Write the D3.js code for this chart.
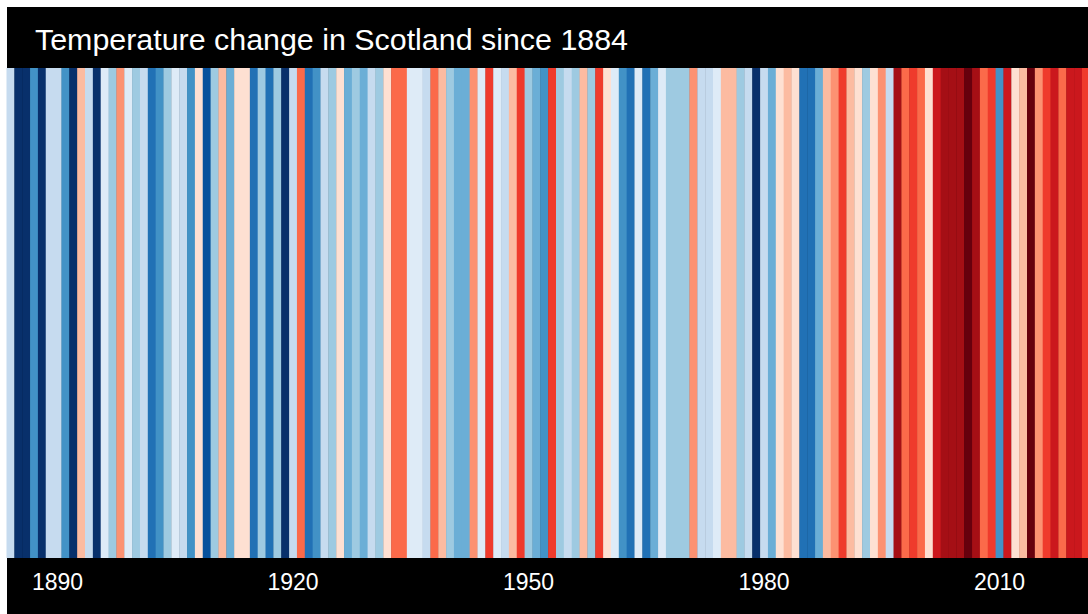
<!DOCTYPE html>
<html>
<head>
<meta charset="utf-8">
<script src="https://cdn.jsdelivr.net/npm/d3@7"></script>
<style>
  html, body { margin: 0; padding: 0; background: #fff; }
  svg { display: block; }
  text { font-family: "Helvetica Neue", Helvetica, Arial, "Liberation Sans", sans-serif; }
</style>
</head>
<body>
<div id="chart"></div>
<script>
// Years shown, one stripe each
const firstYear = 1884;
const lastYear = 2021;
const years = d3.range(firstYear, lastYear + 1);

// Estimated anomaly (°C) per year, read from stripe colours
const anomalies = [
  -0.3, -1.5, -1.5, -0.9, -1.5, -0.3, -0.3, -0.9, -1.5, 0.3,
  -0.3, -1.5, -0.1, -0.5, 0.5, -0.1, -0.5, -0.3, -1.1, -0.9,
  -0.5, -0.1, -0.3, -0.9, 0.1, -1.3, -0.5, 0.3, -0.7, 0.1,
  0.1, -1.1, -0.5, -1.1, -0.5, -1.5, -0.3, 0.7, -1.1, -0.9,
  -0.3, -0.5, 0.1, -0.7, -0.5, -0.7, -0.3, -0.5, 0.1, 0.7,
  0.7, -0.1, -0.1, -0.3, 0.7, 0.3, -0.5, -0.7, -0.7, 0.5,
  -0.1, 0.9, -0.1, -0.3, 0.3, 0.9, -0.5, -0.7, -0.9, 0.9,
  -0.5, -0.3, -0.5, 0.3, -0.5, 0.9, 0.1, -0.1, -0.9, -1.1,
  -0.1, -1.1, -0.7, -0.1, -0.5, -0.5, -0.5, 0.5, -0.3, -0.3,
  -0.1, 0.3, 0.3, -0.5, -0.3, -1.5, -0.3, -0.7, 0.1, 0.3,
  0.1, -1.1, -1.1, -0.7, 0.3, 0.5, 0.9, 0.3, 0.1, -0.5,
  0.1, 0.5, -0.3, 1.3, 0.7, 0.9, 0.7, 0.1, 1.1, 1.3,
  1.3, 1.3, 1.5, 1.3, 0.7, 0.9, -0.9, 1.1, 0.1, 0.3,
  1.5, 0.5, 0.9, 1.1, 0.7, 1.1, 1.1, 0.9
];

const tickYears = [1890, 1920, 1950, 1980, 2010];
const title = 'Temperature change in Scotland since 1884';

// Blues / Reds, 8 classes each, cold to warm
const palette = d3.schemeBlues[9].slice(1).reverse().concat(d3.schemeReds[9].slice(1));

const width = 1088, height = 614;
const margin = { left: 7, top: 7 };
const stripeTop = 68, stripeBottom = 558;
const stripeW = 7.85;

const svg = d3.select('#chart')
  .append('svg')
  .attr('width', width)
  .attr('height', height);

// black backdrop
svg.append('rect')
  .attr('x', margin.left)
  .attr('y', margin.top)
  .attr('width', width - margin.left)
  .attr('height', height - margin.top)
  .attr('fill', '#000');

const x = d3.scaleBand()
  .domain(years)
  .range([6.5, 6.5 + years.length * stripeW])
  .paddingInner(0)
  .paddingOuter(0);

const color = d3.scaleQuantize()
  .domain([-1.6, 1.6])
  .range(palette);

svg.append('g')
  .selectAll('rect')
  .data(years)
  .enter()
  .append('rect')
  .attr('x', d => x(d))
  .attr('y', stripeTop)
  .attr('width', x.bandwidth() + 0.4)
  .attr('height', stripeBottom - stripeTop)
  .attr('fill', (d, i) => color(anomalies[i]));

// Year labels along the bottom
const axis = svg.append('g')
  .attr('transform', `translate(0,${stripeBottom})`)
  .call(d3.axisBottom(x).tickValues(tickYears).tickSize(0).tickPadding(16));

axis.select('.domain').remove();
axis.selectAll('text')
  .attr('fill', '#fff')
  .style('font-size', '23px')
  .attr('font-family', null);

// Title
svg.append('text')
  .attr('x', 35)
  .attr('y', 50)
  .attr('fill', '#fff')
  .style('font-size', '30.4px')
  .text(title);
</script>
</body>
</html>
